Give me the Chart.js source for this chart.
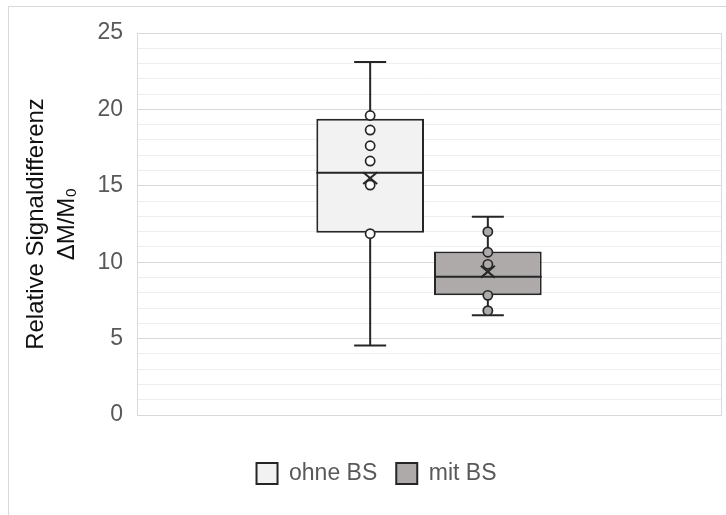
<!DOCTYPE html>
<html>
<head>
<meta charset="utf-8">
<script src="https://cdn.jsdelivr.net/npm/chart.js@4/dist/chart.umd.min.js"></script>
<style>
  html, body { margin: 0; padding: 0; background: #ffffff; }
  #wrap { position: relative; width: 726px; height: 515px; }
</style>
</head>
<body>
<div id="wrap"><canvas id="c" width="726" height="515"></canvas></div>
<script>
// ---- Data ----
const categories = ['ohne BS', 'mit BS'];
const whiskerMin = [4.55, 6.52];
const quartile1 = [11.93, 7.83];
const medians = [15.85, 9.05];
const quartile3 = [19.38, 10.70];
const whiskerMax = [23.10, 12.98];
const means = [15.50, 9.38];
const pointsOhne = [19.60, 18.65, 17.62, 16.62, 15.05, 11.87];
const pointsMit = [12.00, 10.65, 9.86, 7.83, 6.83];
const innerPoints = [pointsOhne, pointsMit];
const yTicksMajor = [0, 5, 10, 15, 20, 25];

const fills = ['#f2f2f2', '#aeaaaa'];
const edge = '#262626';
const FONT = "'Liberation Sans', Arial, sans-serif";

const boxDecor = {
  id: 'boxDecor',
  beforeDraw(chart) {
    const ctx = chart.ctx;
    ctx.save();
    ctx.fillStyle = '#ffffff';
    ctx.fillRect(0, 0, chart.width, chart.height);
    ctx.strokeStyle = '#d9d9d9';
    ctx.lineWidth = 1;
    ctx.strokeRect(8.5, 6.5, chart.width + 20, chart.height + 20);
    ctx.restore();
  },
  beforeDatasetsDraw(chart) {
    const ctx = chart.ctx, a = chart.chartArea;
    ctx.save();
    ctx.strokeStyle = '#d9d9d9';
    ctx.lineWidth = 1;
    ctx.strokeRect(Math.round(a.left) + 0.5, Math.round(a.top) + 0.5,
      Math.round(a.right - a.left), Math.round(a.bottom - a.top));
    ctx.restore();
  },
  afterDatasetsDraw(chart) {
    const ctx = chart.ctx, ys = chart.scales.y;
    ctx.save();
    categories.forEach((cat, i) => {
      const bar = chart.getDatasetMeta(i).data[0];
      if (!bar) return;
      const x = bar.x, hw = bar.width / 2;
      const capHalf = 16;
      ctx.strokeStyle = edge;
      ctx.lineWidth = 2;
      ctx.beginPath();
      ctx.moveTo(x, ys.getPixelForValue(quartile3[i]));
      ctx.lineTo(x, ys.getPixelForValue(whiskerMax[i]));
      ctx.moveTo(x, ys.getPixelForValue(quartile1[i]));
      ctx.lineTo(x, ys.getPixelForValue(whiskerMin[i]));
      const yMax = ys.getPixelForValue(whiskerMax[i]);
      const yMin = ys.getPixelForValue(whiskerMin[i]);
      ctx.moveTo(x - capHalf, yMax); ctx.lineTo(x + capHalf, yMax);
      ctx.moveTo(x - capHalf, yMin); ctx.lineTo(x + capHalf, yMin);
      const yMed = ys.getPixelForValue(medians[i]);
      ctx.moveTo(x - hw, yMed); ctx.lineTo(x + hw, yMed);
      ctx.stroke();
      ctx.lineWidth = 1.7;
      innerPoints[i].forEach(v => {
        const yp = ys.getPixelForValue(v);
        ctx.beginPath();
        ctx.arc(x, yp, 4.6, 0, Math.PI * 2);
        ctx.fillStyle = i === 0 ? '#ffffff' : fills[1];
        ctx.fill();
        ctx.stroke();
      });
      const ym = ys.getPixelForValue(means[i]);
      const s = 7;
      ctx.lineWidth = 2;
      ctx.beginPath();
      ctx.moveTo(x - s, ym - s * 0.85); ctx.lineTo(x + s, ym + s * 0.85);
      ctx.moveTo(x + s, ym - s * 0.85); ctx.lineTo(x - s, ym + s * 0.85);
      ctx.stroke();
    });
    ctx.restore();
  }
};

new Chart(document.getElementById('c'), {
  type: 'bar',
  data: {
    labels: [''],
    datasets: categories.map((cat, i) => ({
      label: cat,
      data: [[quartile1[i], quartile3[i]]],
      backgroundColor: fills[i],
      borderColor: edge,
      borderWidth: 2,
      borderSkipped: false
    }))
  },
  options: {
    responsive: false,
    animation: false,
    events: [],
    categoryPercentage: 0.403,
    barPercentage: 0.915,
    layout: { padding: { left: 32, right: 5, top: 33, bottom: 20 } },
    plugins: {
      tooltip: { enabled: false },
      legend: {
        position: 'bottom',
        labels: {
          boxWidth: 21, boxHeight: 21, padding: 19,
          color: '#595959',
          font: { family: FONT, size: 23 }
        }
      }
    },
    scales: {
      x: {
        grid: { display: false },
        ticks: { display: false },
        border: { display: false },
        afterFit: (scale) => { scale.height = 28; }
      },
      y: {
        min: 0, max: 25,
        afterFit: (scale) => { scale.width = 105; },
        ticks: {
          stepSize: 1,
          autoSkip: false,
          padding: 14,
          color: '#595959',
          font: { family: FONT, size: 23 },
          callback: (v) => yTicksMajor.includes(v) ? String(v) : ''
        },
        grid: {
          drawTicks: false,
          color: (c) => (c.tick && c.tick.value % 5 === 0) ? '#d9d9d9' : '#eeeeee',
          lineWidth: 1
        },
        border: { display: true, color: '#d9d9d9' },
        title: {
          display: true,
          text: ['Relative Signaldifferenz', 'ΔM/M₀'],
          color: '#111111',
          font: { family: FONT, size: 24, lineHeight: 1.3 },
          padding: { top: -11, bottom: 0 }
        }
      }
    }
  },
  plugins: [boxDecor]
});
</script>
</body>
</html>
